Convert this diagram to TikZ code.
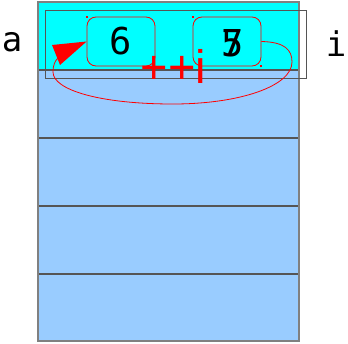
\documentclass[tikz,border=0pt]{standalone}
\usepackage{fontspec}
\setmonofont{DejaVu Sans Mono}
\newfontfamily\incfont{Liberation Sans}
\definecolor{cellblue}{HTML}{99CCFF}
\definecolor{topcyan}{HTML}{00FFFF}
\definecolor{edgegray}{HTML}{808080}
\definecolor{linegray}{HTML}{555555}
\begin{document}
\begin{tikzpicture}[x=1pt,y=-1pt,
  valbox/.style={draw=red,line width=0.8pt,rounded corners=9pt,minimum width=68pt,minimum height=49pt,inner sep=0pt},
  lbl/.style={font=\ttfamily\fontsize{34}{34}\selectfont,inner sep=0pt},
  digit/.style={font=\ttfamily\fontsize{37}{37}\selectfont,inner sep=0pt},
  incr/.style={font=\incfont\fontsize{47}{47}\selectfont,text=red,inner sep=0pt,anchor=base},
  loop/.style={draw=red,line width=0.8pt},
  speck/.style={fill=red,inner sep=0pt,minimum size=1.2pt}]
\useasboundingbox (0,0) rectangle (348,343);
% cells
\fill[topcyan] (38,2) rectangle (299,70);
\fill[cellblue] (38,70) rectangle (299,341);
\draw[linegray,line width=1.2pt] (38,70) -- (299,70);
\draw[linegray,line width=1.2pt] (38,138) -- (299,138);
\draw[linegray,line width=1.2pt] (38,206) -- (299,206);
\draw[linegray,line width=1.2pt] (38,274) -- (299,274);
\draw[edgegray,line width=1.5pt] (38,2) rectangle (299,341);
% i frame
\node[draw=linegray,line width=0.8pt,minimum width=261pt,minimum height=68pt,inner sep=0pt] (iframe) at (175.5,44) {};
% labels
\node[lbl] (la) at (12,42) {a};
\node[lbl] (li) at (336,44) {i};
% value boxes
\node[valbox] (b6) at (121,41.5) {};
\node[digit] (d6) at (b6.center) {6};
\node[valbox] (bi) at (227,41.5) {};
\node[digit] (d5) at (233,43) {5};
\node[digit] (d7) at (233,43) {7};
\node[speck] (s1) at (87,17) {};
\node[speck] (s2) at (193,17) {};
\node[speck] (s3) at (261,66) {};
% ++i
\node[incr] (inc) at (173.5,83) {++i};
% loop arrow
\coordinate (lend) at (58,58);
\draw[loop] (bi.east) .. controls (285,42) and (292,50) .. (292,62)
  .. controls (292,86) and (240,104) .. (173,104)
  .. controls (100,104) and (53,90) .. (53,72)
  .. controls (53,65) and (55,61) .. (lend);
\fill[red] (52,45) -- (b6.west) -- (60,65) -- cycle;
\end{tikzpicture}
\end{document}
